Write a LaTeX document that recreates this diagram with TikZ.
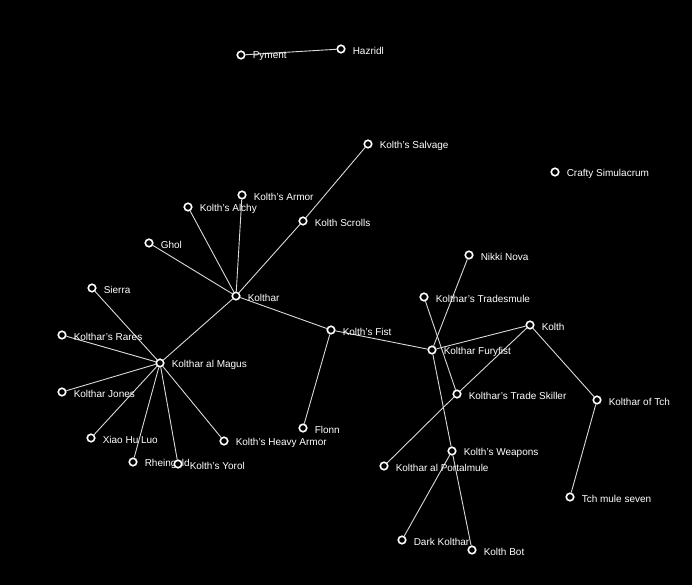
\documentclass[tikz,border=0pt]{standalone}
\usepackage{fontspec}
\setmainfont{Liberation Sans}
\usetikzlibrary{shapes, arrows}

\pgfdeclarelayer{bg}
\pgfsetlayers{bg,main}

\begin{document}
\begin{tikzpicture}[x=1pt,y=-1pt,-,
      main node/.style={circle,draw=white,fill=black,line width=1.6pt,minimum size=7.5pt,inner sep=0pt},
      every label/.style={text=white,font=\fontsize{10}{12}\selectfont,label distance=6pt,inner sep=1pt,yshift=-1.5pt}]

        \useasboundingbox (0,0) rectangle (692,585);

        \node[main node, label=right:{Pyment}] (1) at (241,55) {};
        \node[main node, label=right:{Hazridl}] (2) at (341,49) {};
        \node[main node, label=right:{Kolth's Salvage}] (3) at (368,144) {};
        \node[main node, label=right:{Crafty Simulacrum}] (4) at (555,172) {};
        \node[main node, label=right:{Kolth's Armor}] (5) at (242,195) {};
        \node[main node, label=right:{Kolth's Alchy}] (6) at (188,207) {};
        \node[main node, label=right:{Kolth Scrolls}] (7) at (303,221) {};
        \node[main node, label=right:{Ghol}] (8) at (149,243) {};
        \node[main node, label=right:{Nikki Nova}] (9) at (469,255) {};
        \node[main node, label=right:{Sierra}] (10) at (92,288) {};
        \node[main node, label=right:{Kolthar}] (11) at (236,296) {};
        \node[main node, label=right:{Kolthar's Tradesmule}] (12) at (424,297) {};
        \node[main node, label=right:{Kolth}] (13) at (530,325) {};
        \node[main node, label=right:{Kolth's Fist}] (14) at (331,330) {};
        \node[main node, label=right:{Kolthar's Rares}] (15) at (62,335) {};
        \node[main node, label=right:{Kolthar Furyfist}] (16) at (432,350) {};
        \node[main node, label=right:{Kolthar al Magus}] (17) at (160,363) {};
        \node[main node, label=right:{Kolthar Jones}] (18) at (62,392) {};
        \node[main node, label=right:{Kolthar's Trade Skiller}] (19) at (457,394) {};
        \node[main node, label=right:{Kolthar of Tch}] (20) at (597,400) {};
        \node[main node, label=right:{Flonn}] (21) at (303,428) {};
        \node[main node, label=right:{Xiao Hu Luo}] (22) at (91,438) {};
        \node[main node, label=right:{Kolth's Heavy Armor}] (23) at (224,441) {};
        \node[main node, label=right:{Kolth's Weapons}] (24) at (452,451) {};
        \node[main node, label=right:{Rheingold}] (25) at (133,462) {};
        \node[main node, label=right:{Kolth's Yorol}] (26) at (178,464) {};
        \node[main node, label=right:{Kolthar al Portalmule}] (27) at (384,466) {};
        \node[main node, label=right:{Tch mule seven}] (28) at (570,497) {};
        \node[main node, label=right:{Dark Kolthar}] (29) at (402,540) {};
        \node[main node, label=right:{Kolth Bot}] (30) at (472,550) {};

        \begin{pgfonlayer}{bg}
        \fill[black] (0,0) rectangle (692,585);
        \path[draw=black!15, line width=0.9pt]
            (1) edge (2)
            (11) edge (7)
            (7) edge (3)
            (11) edge (5)
            (11) edge (6)
            (11) edge (8)
            (11) edge (17)
            (11) edge (14)
            (17) edge (10)
            (17) edge (15)
            (17) edge (18)
            (17) edge (22)
            (17) edge (25)
            (17) edge (26)
            (17) edge (23)
            (14) edge (21)
            (14) edge (16)
            (16) edge (13)
            (16) edge (9)
            (16) edge (24)
            (24) edge (30)
            (24) edge (29)
            (12) edge (19)
            (13) edge (19)
            (19) edge (27)
            (13) edge (20)
            (20) edge (28)
        ;
        \end{pgfonlayer}
    \end{tikzpicture}
\end{document}
